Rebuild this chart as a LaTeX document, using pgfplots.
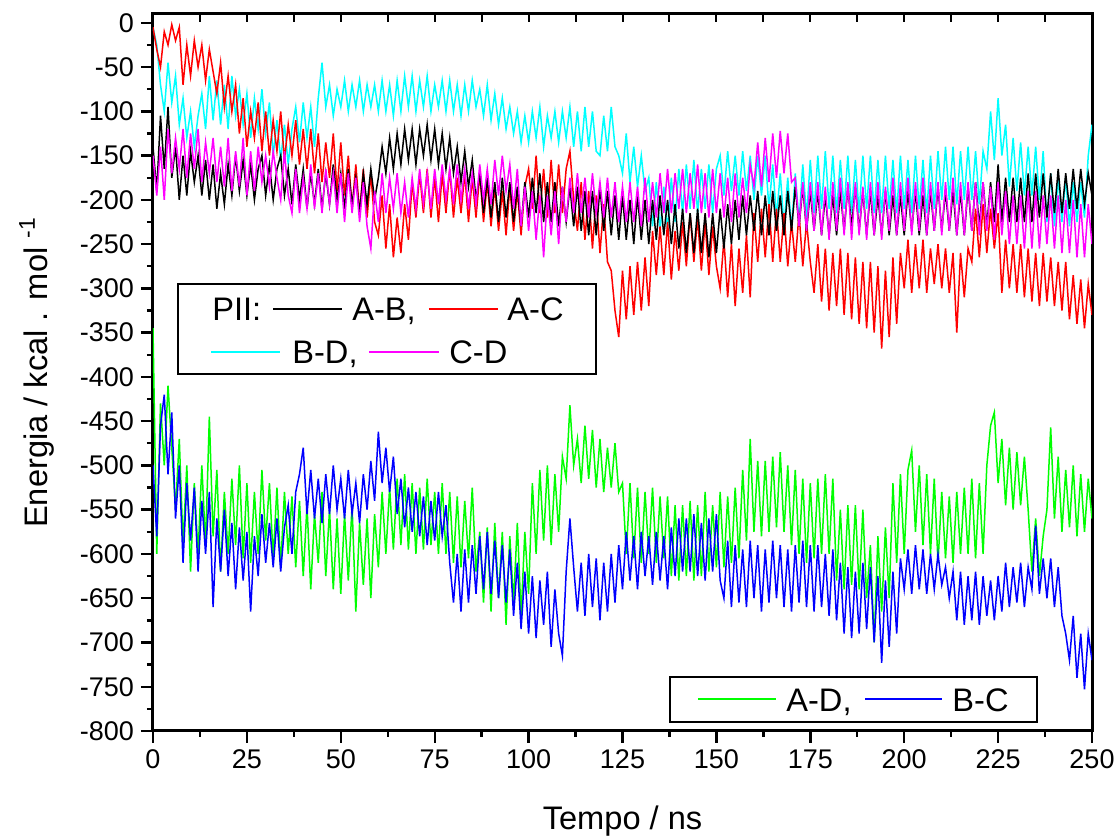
\documentclass[border=0pt]{standalone}
\usepackage{fontspec}
\setmainfont{Liberation Sans}
\usepackage{pgfplots}
\usepackage{pgfplotstable}
\pgfplotsset{compat=1.18}

\definecolor{oBlack}{RGB}{0,0,0}
\definecolor{oRed}{RGB}{255,0,0}
\definecolor{oCyan}{RGB}{0,255,255}
\definecolor{oMagenta}{RGB}{255,0,255}
\definecolor{oGreen}{RGB}{0,255,0}
\definecolor{oBlue}{RGB}{0,0,255}

% t = Tempo (ns); remaining columns = interaction energies (kcal/mol)
\pgfplotstableread{
t ab ac bd cd ad bc
0 -140 -5 -5 -150 -345 -500
1 -190 -30 -25 -195 -600 -580
2 -105 -50 -70 -140 -430 -455
3 -165 -10 -100 -200 -500 -420
4 -95 -25 -45 -120 -410 -510
5 -175 -2 -90 -170 -480 -440
6 -140 -20 -60 -130 -550 -560
7 -200 -5 -115 -165 -470 -500
8 -150 -70 -85 -120 -590 -610
9 -195 -25 -130 -175 -500 -520
10 -145 -60 -100 -125 -620 -585
11 -180 -20 -140 -165 -520 -525
12 -150 -50 -105 -120 -600 -620
13 -195 -25 -80 -180 -500 -540
14 -155 -65 -120 -135 -590 -600
15 -200 -30 -60 -170 -445 -530
16 -160 -55 -110 -130 -580 -660
17 -210 -80 -65 -180 -505 -560
18 -170 -45 -115 -140 -620 -620
19 -205 -95 -70 -185 -530 -550
20 -160 -60 -120 -130 -600 -625
21 -195 -100 -60 -190 -515 -565
22 -150 -70 -105 -145 -590 -640
23 -190 -125 -75 -185 -500 -570
24 -155 -85 -115 -130 -605 -630
25 -195 -140 -80 -195 -520 -575
26 -160 -100 -130 -145 -610 -665
27 -200 -130 -85 -190 -530 -580
28 -165 -90 -120 -140 -600 -625
29 -150 -145 -75 -180 -505 -555
30 -195 -100 -125 -150 -585 -610
31 -160 -150 -90 -185 -520 -565
32 -200 -110 -150 -145 -605 -615
33 -165 -145 -110 -175 -525 -560
34 -150 -100 -155 -200 -615 -620
35 -195 -155 -115 -145 -530 -570
36 -165 -115 -160 -195 -600 -545
37 -205 -150 -120 -215 -535 -600
38 -160 -110 -95 -165 -615 -530
39 -200 -160 -135 -215 -540 -510
40 -165 -120 -90 -175 -625 -480
41 -210 -165 -130 -210 -545 -555
42 -170 -120 -95 -160 -640 -505
43 -205 -170 -140 -210 -555 -560
44 -165 -125 -85 -170 -610 -515
45 -210 -180 -45 -215 -530 -565
46 -170 -135 -95 -165 -625 -510
47 -205 -175 -70 -205 -550 -555
48 -160 -125 -105 -170 -640 -500
49 -200 -190 -75 -215 -560 -550
50 -170 -135 -95 -170 -645 -515
51 -210 -195 -65 -225 -555 -560
52 -165 -150 -100 -170 -630 -505
53 -205 -210 -70 -215 -545 -555
54 -175 -160 -95 -175 -665 -520
55 -215 -215 -65 -225 -565 -565
56 -170 -165 -100 -180 -635 -510
57 -205 -220 -70 -230 -560 -550
58 -165 -170 -95 -255 -650 -495
59 -200 -225 -70 -190 -555 -540
60 -175 -240 -100 -225 -615 -462
61 -140 -195 -65 -170 -530 -520
62 -170 -255 -100 -215 -600 -480
63 -130 -205 -70 -175 -525 -530
64 -165 -265 -105 -210 -595 -490
65 -125 -220 -65 -170 -515 -555
66 -160 -260 -100 -215 -590 -515
67 -120 -205 -60 -180 -510 -570
68 -155 -245 -95 -220 -595 -525
69 -120 -180 -60 -175 -520 -575
70 -160 -220 -100 -210 -600 -530
71 -120 -170 -65 -165 -525 -580
72 -150 -215 -95 -205 -595 -535
73 -115 -165 -60 -170 -515 -590
74 -155 -220 -100 -210 -590 -540
75 -120 -175 -70 -165 -530 -585
76 -160 -225 -95 -205 -600 -530
77 -125 -170 -65 -160 -520 -580
78 -165 -215 -100 -200 -600 -545
79 -130 -165 -65 -165 -530 -610
80 -170 -220 -100 -205 -610 -655
81 -140 -175 -70 -160 -535 -600
82 -180 -215 -105 -200 -615 -665
83 -145 -170 -70 -165 -540 -595
84 -185 -225 -100 -210 -605 -655
85 -155 -175 -65 -170 -525 -590
86 -200 -220 -95 -205 -620 -645
87 -170 -170 -75 -160 -575 -580
88 -215 -225 -105 -200 -655 -640
89 -175 -180 -70 -165 -570 -575
90 -220 -230 -110 -205 -665 -645
91 -180 -185 -80 -155 -565 -585
92 -225 -235 -115 -195 -650 -650
93 -175 -190 -85 -150 -575 -590
94 -220 -240 -120 -190 -680 -655
95 -180 -185 -95 -160 -580 -595
96 -225 -235 -125 -210 -655 -670
97 -185 -190 -100 -165 -565 -610
98 -230 -240 -135 -230 -670 -685
99 -180 -185 -105 -185 -575 -620
100 -220 -165 -135 -235 -645 -690
101 -175 -210 -100 -190 -520 -625
102 -215 -150 -130 -245 -600 -695
103 -170 -215 -95 -195 -505 -630
104 -225 -165 -140 -265 -585 -680
105 -180 -220 -105 -195 -500 -620
106 -225 -155 -130 -240 -590 -705
107 -180 -215 -100 -190 -510 -640
108 -230 -160 -135 -250 -575 -690
109 -185 -215 -100 -185 -490 -715
110 -225 -165 -130 -225 -515 -620
111 -185 -145 -95 -175 -432 -560
112 -230 -200 -140 -215 -500 -615
113 -185 -235 -100 -170 -470 -665
114 -235 -180 -145 -215 -520 -610
115 -190 -245 -95 -175 -455 -670
116 -240 -190 -140 -220 -515 -600
117 -190 -255 -100 -170 -460 -660
118 -240 -195 -145 -215 -525 -605
119 -185 -260 -150 -180 -470 -675
120 -235 -205 -105 -220 -530 -610
121 -190 -270 -145 -175 -480 -665
122 -240 -280 -95 -220 -525 -600
123 -195 -325 -140 -180 -475 -655
124 -245 -355 -150 -225 -530 -590
125 -195 -280 -170 -185 -520 -640
126 -245 -335 -125 -225 -600 -575
127 -200 -275 -180 -180 -520 -630
128 -250 -330 -140 -225 -605 -580
129 -195 -270 -185 -185 -525 -640
130 -245 -325 -150 -230 -610 -575
131 -200 -265 -190 -175 -530 -625
132 -250 -320 -175 -225 -600 -580
133 -200 -235 -230 -180 -525 -635
134 -245 -285 -180 -220 -610 -575
135 -195 -230 -235 -170 -535 -630
136 -240 -285 -185 -215 -605 -580
137 -200 -225 -235 -165 -535 -640
138 -250 -290 -175 -215 -625 -570
139 -205 -235 -225 -170 -545 -625
140 -255 -280 -165 -210 -630 -560
141 -210 -225 -215 -165 -545 -620
142 -260 -275 -160 -215 -625 -560
143 -215 -215 -210 -170 -540 -620
144 -260 -270 -155 -210 -630 -555
145 -210 -220 -215 -160 -545 -625
146 -260 -280 -165 -215 -625 -565
147 -215 -225 -210 -170 -530 -630
148 -265 -285 -160 -220 -620 -560
149 -215 -230 -215 -165 -545 -620
150 -260 -275 -165 -215 -615 -555
151 -210 -300 -150 -170 -530 -630
152 -255 -245 -195 -220 -615 -650
153 -205 -310 -145 -175 -535 -585
154 -250 -250 -190 -225 -610 -660
155 -200 -320 -150 -170 -525 -590
156 -245 -255 -195 -220 -605 -655
157 -195 -305 -145 -175 -505 -595
158 -240 -240 -190 -215 -585 -660
159 -195 -310 -150 -160 -470 -585
160 -235 -215 -200 -185 -575 -650
161 -190 -270 -150 -135 -495 -590
162 -240 -210 -195 -185 -580 -665
163 -195 -265 -150 -130 -495 -595
164 -240 -205 -210 -180 -575 -655
165 -190 -270 -160 -125 -490 -585
166 -235 -210 -220 -175 -570 -650
167 -195 -270 -170 -122 -485 -590
168 -240 -215 -230 -170 -575 -660
169 -190 -275 -175 -125 -500 -595
170 -235 -225 -235 -180 -590 -665
171 -185 -270 -170 -175 -505 -590
172 -230 -215 -225 -230 -600 -655
173 -185 -275 -160 -180 -515 -585
174 -235 -225 -220 -235 -610 -660
175 -190 -270 -155 -180 -520 -590
176 -235 -305 -215 -235 -605 -665
177 -190 -250 -150 -180 -515 -590
178 -240 -315 -210 -240 -600 -660
179 -195 -255 -145 -185 -510 -600
180 -240 -325 -210 -245 -600 -670
181 -195 -260 -150 -180 -515 -595
182 -240 -320 -215 -235 -630 -675
183 -190 -255 -155 -175 -550 -610
184 -235 -330 -210 -240 -640 -690
185 -185 -260 -150 -180 -545 -615
186 -230 -335 -215 -245 -635 -695
187 -185 -265 -155 -180 -545 -620
188 -235 -340 -215 -240 -640 -690
189 -190 -270 -150 -185 -550 -610
190 -240 -345 -210 -245 -650 -685
191 -190 -270 -150 -180 -590 -615
192 -240 -350 -215 -240 -700 -700
193 -195 -275 -155 -180 -580 -625
194 -240 -368 -215 -245 -665 -723
195 -190 -280 -150 -185 -570 -630
196 -240 -355 -210 -235 -650 -705
197 -195 -265 -155 -175 -520 -620
198 -240 -340 -215 -240 -610 -690
199 -195 -260 -150 -180 -510 -605
200 -240 -300 -210 -235 -600 -640
201 -190 -245 -155 -175 -505 -595
202 -235 -305 -215 -240 -483 -645
203 -190 -250 -150 -180 -575 -590
204 -240 -300 -210 -235 -500 -640
205 -195 -245 -155 -175 -590 -595
206 -240 -305 -215 -240 -510 -645
207 -190 -255 -150 -180 -600 -600
208 -235 -295 -210 -235 -515 -640
209 -185 -250 -145 -180 -610 -600
210 -235 -300 -200 -240 -530 -635
211 -190 -255 -140 -180 -605 -615
212 -235 -305 -200 -235 -535 -650
213 -190 -260 -140 -175 -610 -620
214 -240 -350 -205 -240 -530 -675
215 -190 -260 -145 -180 -600 -620
216 -240 -310 -200 -240 -525 -680
217 -185 -255 -140 -180 -600 -625
218 -235 -270 -200 -235 -515 -675
219 -180 -210 -145 -180 -605 -620
220 -230 -265 -205 -240 -520 -680
221 -180 -205 -145 -180 -600 -625
222 -230 -260 -165 -235 -500 -670
223 -180 -210 -100 -185 -455 -630
224 -225 -255 -155 -245 -440 -675
225 -160 -215 -85 -180 -520 -625
226 -225 -305 -150 -240 -470 -665
227 -175 -245 -115 -190 -545 -610
228 -225 -300 -185 -250 -480 -660
229 -175 -250 -130 -195 -550 -615
230 -225 -305 -190 -250 -485 -655
231 -175 -250 -135 -195 -545 -610
232 -225 -310 -195 -255 -490 -660
233 -170 -255 -140 -190 -550 -615
234 -225 -315 -195 -255 -620 -640
235 -170 -260 -140 -190 -560 -568
236 -220 -320 -200 -255 -625 -645
237 -170 -260 -145 -195 -580 -605
238 -220 -315 -225 -250 -550 -650
239 -170 -265 -170 -195 -457 -605
240 -215 -320 -230 -255 -560 -660
241 -165 -270 -175 -195 -490 -615
242 -215 -325 -225 -260 -575 -670
243 -170 -270 -175 -200 -505 -690
244 -210 -335 -230 -260 -570 -720
245 -165 -285 -180 -200 -500 -670
246 -210 -340 -225 -265 -580 -740
247 -165 -290 -180 -205 -510 -690
248 -205 -345 -220 -265 -575 -753
249 -170 -295 -150 -205 -515 -690
250 -195 -330 -115 -250 -560 -720
}\energy

\begin{document}
\begin{tikzpicture}
\begin{axis}[
  name=main,
  scale only axis,
  width=469.5pt, height=358.5pt,
  xmin=0, xmax=250,
  ymin=-800, ymax=10,
  xtick={0,25,...,250},
  ytick={-800,-750,...,0},
  minor x tick num=1,
  minor y tick num=1,
  xtick pos=left, ytick pos=left,
  tick align=outside,
  major tick length=6pt,
  minor tick length=3pt,
  every tick/.style={black, line width=1.2pt},
  axis line style={line width=1.5pt},
  /pgf/number format/assume math mode=true,
  tick label style={font=\fontsize{13.5}{16}\selectfont},
  label style={font=\fontsize{16.3}{19}\selectfont},
  xlabel={Tempo / ns},
  ylabel={Energia / kcal . mol \textsuperscript{-1}},
  xlabel style={at={(axis description cs:0.5,-0.1255)}, anchor=center},
  ylabel style={at={(axis description cs:-0.124,0.5)}, anchor=center},
  every axis plot/.append style={line width=0.75pt},
]
\addplot[oCyan] table[x=t, y=bd] {\energy};
\addplot[oRed] table[x=t, y=ac] {\energy};
\addplot[oBlack] table[x=t, y=ab] {\energy};
\addplot[oMagenta] table[x=t, y=cd] {\energy};
\addplot[oGreen] table[x=t, y=ad] {\energy};
\addplot[oBlue] table[x=t, y=bc] {\energy};

% legend boxes
\draw[line width=0.6pt, fill=white] (axis description cs:0.0266,0.4979) rectangle (axis description cs:0.4718,0.6234);
\draw[line width=0.6pt, fill=white] (axis description cs:0.5506,0.01255) rectangle (axis description cs:0.9414,0.0753);
% legend keys
\draw[oBlack, line width=0.7pt] (axis description cs:0.1278,0.5886) -- (axis description cs:0.2013,0.5886);
\draw[oRed, line width=0.7pt] (axis description cs:0.2939,0.5886) -- (axis description cs:0.3674,0.5886);
\draw[oCyan, line width=0.7pt] (axis description cs:0.0618,0.5286) -- (axis description cs:0.1353,0.5286);
\draw[oMagenta, line width=0.7pt] (axis description cs:0.2300,0.5286) -- (axis description cs:0.3046,0.5286);
\draw[oGreen, line width=0.7pt] (axis description cs:0.5804,0.0446) -- (axis description cs:0.6635,0.0446);
\draw[oBlue, line width=0.7pt] (axis description cs:0.7583,0.0446) -- (axis description cs:0.8403,0.0446);
% legend texts
\begin{scope}[every node/.style={anchor=base west, inner sep=0, font=\fontsize{16.3}{19}\selectfont}]
\node at (axis description cs:0.0628,0.5722) {PII:};
\node at (axis description cs:0.2119,0.5722) {A-B,};
\node at (axis description cs:0.3770,0.5722) {A-C};
\node at (axis description cs:0.1480,0.5126) {B-D,};
\node at (axis description cs:0.3152,0.5126) {C-D};
\node at (axis description cs:0.6741,0.0269) {A-D,};
\node at (axis description cs:0.8509,0.0269) {B-C};
\end{scope}
\end{axis}

% inward ticks along the top edge
\begin{axis}[
  scale only axis,
  width=469.5pt, height=358.5pt,
  xmin=0, xmax=250,
  ymin=-800, ymax=10,
  xtick={0,25,...,250},
  minor x tick num=1,
  xtick pos=right,
  tick align=inside,
  xticklabels={},
  ytick=\empty,
  axis line style={draw=none},
  major tick length=4pt,
  minor tick length=4pt,
  every tick/.style={black, line width=1pt},
]
\end{axis}

\pgfresetboundingbox
\path[use as bounding box] ([shift={(-76.5pt,-54pt)}]main.south west) rectangle ([shift={(13.5pt,7pt)}]main.north east);
\end{tikzpicture}
\end{document}
